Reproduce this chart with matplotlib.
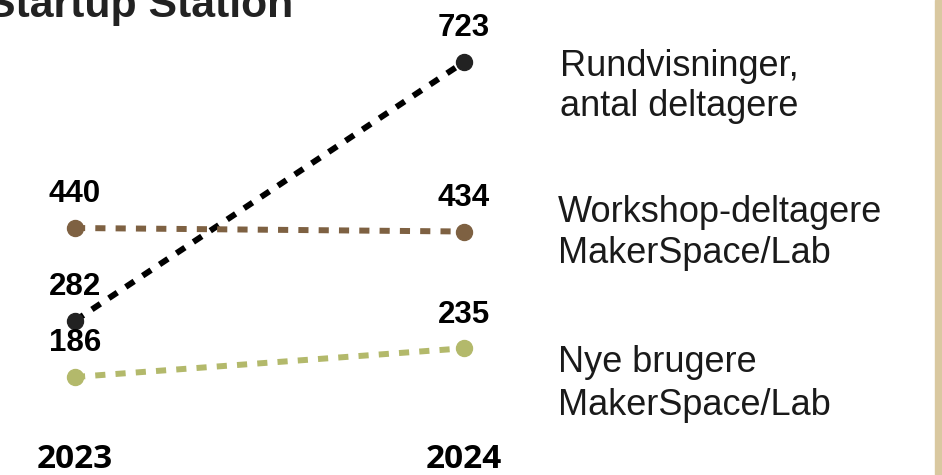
import matplotlib.pyplot as plt
from matplotlib.patches import Rectangle

# Data
years = ['2023', '2024']
rundvisninger = [282, 723]
workshop = [440, 434]
nye_brugere = [186, 235]

series = [
    (rundvisninger, '#000000', '#222222'),
    (workshop, '#7E6142', '#7E6142'),
    (nye_brugere, '#B3B96B', '#B3B96B'),
]
labels = [
    ['Rundvisninger,', 'antal deltagere'],
    ['Workshop-deltagere', 'MakerSpace/Lab'],
    ['Nye brugere', 'MakerSpace/Lab'],
]
label_baselines = [(76, 116), (222, 263), (372, 415)]

W, H = 942, 475
fig = plt.figure(figsize=(W / 100, H / 100), dpi=100)
ax = fig.add_axes([0, 0, 1, 1])
ax.set_xlim(-0.1928, 2.2288)
ax.set_ylim(18.9, 828.7)
ax.axis('off')

x = list(range(len(years)))
for vals, lc, mc in series:
    ax.plot(x, vals, color=lc, lw=4.3, dashes=(1.7, 1.7))
    ax.plot(x, vals, 'o', color=mc, ms=11.5, zorder=3)
    for xi, v in zip(x, vals):
        ax.annotate(str(v), (xi, v), xytext=(0, 18.5), textcoords='offset points',
                    ha='center', va='baseline', fontsize=22.5, fontweight='bold',
                    family='Liberation Sans', color='#000000')

# Year labels along the bottom
for xi, yr in zip(x, years):
    ax.text(xi, 1 - 468 / H, yr, transform=ax.get_xaxis_transform(),
            ha='center', va='baseline', fontsize=24, fontweight='bold',
            family='Open Sans', color='#000000')

# Series labels on the right
for lines, (b1, b2), xp in zip(labels, label_baselines, [560, 558, 558]):
    for txt, b in zip(lines, (b1, b2)):
        fig.text(xp / W, 1 - b / H, txt, ha='left', va='baseline', fontsize=26,
                 family='Liberation Sans', color='#1a1a1a')

# Title (cut off at top)
fig.text(293 / W, 1 - 17 / H, 'Startup Station', ha='right', va='baseline',
         fontsize=30.8, fontweight='bold', family='Liberation Sans', color='#222222')

# Tan strip on the right edge
fig.patches.append(Rectangle((935 / W, 0), 7 / W, 1, transform=fig.transFigure,
                             color='#D9C8A0', zorder=0))

plt.savefig('out.png', dpi=100)
